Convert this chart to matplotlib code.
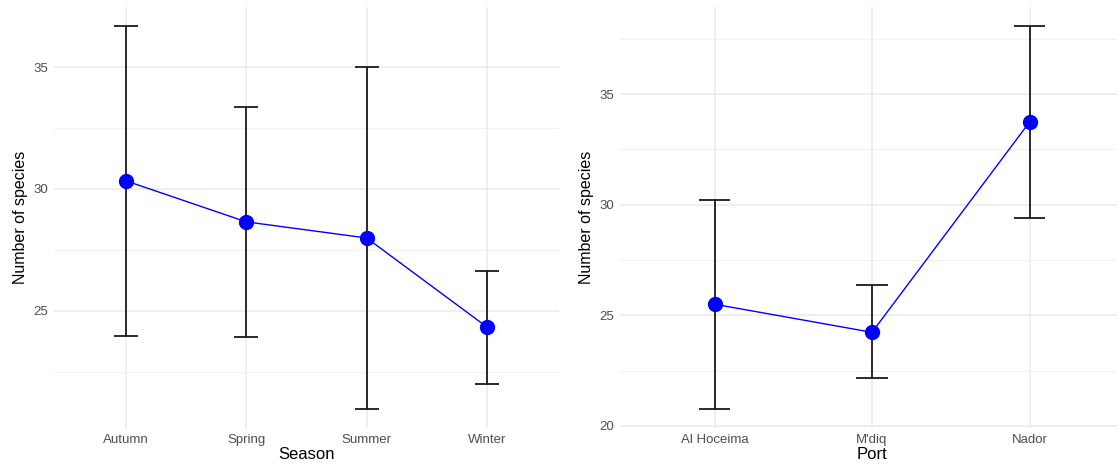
import matplotlib
matplotlib.use("Agg")
import matplotlib.pyplot as plt
import numpy as np

plt.rcParams['font.family'] = ['Liberation Sans', 'DejaVu Sans']

seasons = ["Autumn", "Spring", "Summer", "Winter"]
season_mean = [30.33, 28.65, 27.99, 24.34]
season_lo = [23.98, 23.93, 20.98, 22.0]
season_hi = [36.68, 33.36, 35.0, 26.64]

ports = ["Al Hoceima", "M'diq", "Nador"]
port_mean = [25.5, 24.23, 33.73]
port_lo = [20.77, 22.17, 29.41]
port_hi = [30.23, 26.36, 38.07]

fig = plt.figure(figsize=(11.17, 4.66), dpi=100)
ax1 = fig.add_axes([54/1117, 1-428/466, 505/1117, 421/466])
ax2 = fig.add_axes([620/1117, 1-428/466, 504/1117, 421/466])

def panel(ax, cats, mean, lo, hi, xlabel, major, minor):
    x = np.arange(1, len(cats)+1)
    lo = np.array(lo); hi = np.array(hi); mean = np.array(mean)
    vmin, vmax = lo.min(), hi.max()
    span = vmax - vmin
    ax.set_ylim(vmin - 0.05*span, vmax + 0.05*span)
    ax.set_xlim(0.4, len(cats)+0.6)
    for m in minor:
        ax.axhline(m, color='#f2f2f2', lw=0.8, zorder=0)
    for m in major:
        ax.axhline(m, color='#ebebeb', lw=1.1, zorder=0)
    for xi in x:
        ax.axvline(xi, color='#ebebeb', lw=1.1, zorder=0)
    ax.vlines(x, lo, hi, color='#1a1a1a', lw=1.3, zorder=2)
    ax.hlines(lo, x-0.1, x+0.1, color='#1a1a1a', lw=1.3, zorder=2)
    ax.hlines(hi, x-0.1, x+0.1, color='#1a1a1a', lw=1.3, zorder=2)
    ax.plot(x, mean, color='#0000ff', lw=1.0, zorder=3)
    ax.plot(x, mean, 'o', color='#0000ff', ms=10, zorder=4)
    ax.set_xticks(x)
    ax.set_xticklabels(cats)
    ax.set_yticks(major)
    ax.tick_params(length=0, labelsize=9.5, labelcolor='#4d4d4d', pad=4)
    for s in ax.spines.values():
        s.set_visible(False)
    ax.set_xlabel(xlabel, fontsize=12, labelpad=1)
    ax.set_ylabel("Number of species", fontsize=11.5, labelpad=4)

panel(ax1, seasons, season_mean, season_lo, season_hi, "Season",
      [25, 30, 35], [22.5, 27.5, 32.5])
panel(ax2, ports, port_mean, port_lo, port_hi, "Port",
      [20, 25, 30, 35], [22.5, 27.5, 32.5, 37.5])

fig.savefig("out.png", dpi=100)
